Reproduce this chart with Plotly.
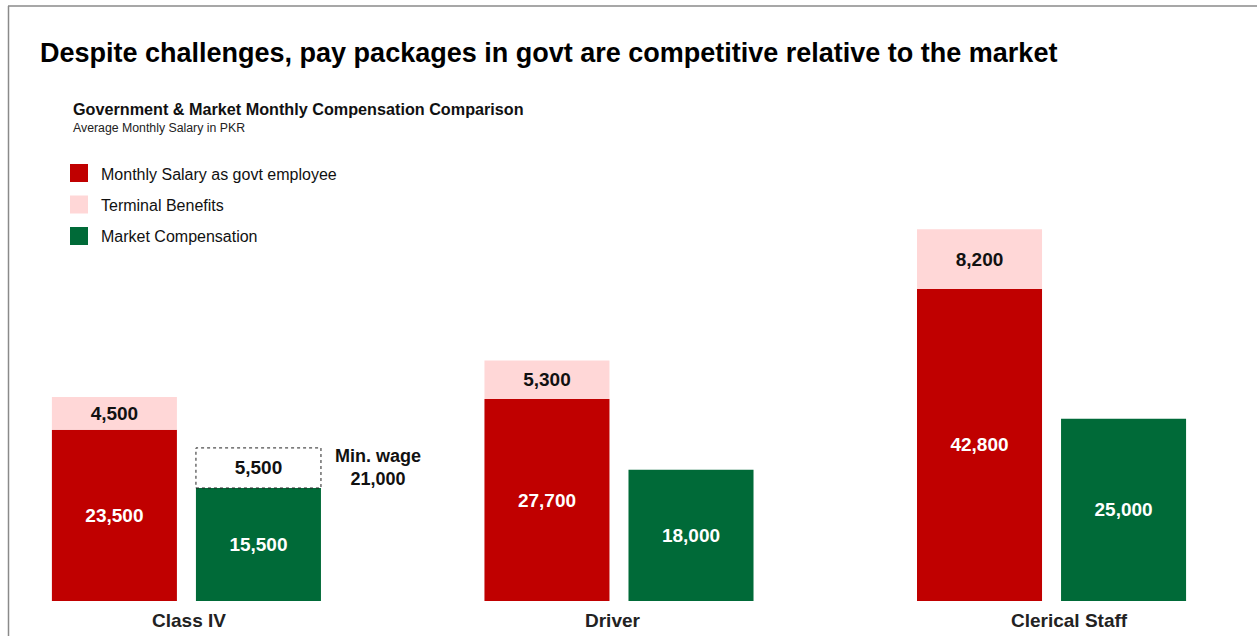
import plotly.graph_objects as go

# ---- data ----
categories = ["Class IV", "Driver", "Clerical Staff"]
govt_salary = [23500, 27700, 42800]
terminal_benefits = [4500, 5300, 8200]
market_comp = [15500, 18000, 25000]
min_wage = 21000
min_wage_gap = [min_wage - market_comp[0], None, None]

series_names = ["Monthly Salary as govt employee", "Terminal Benefits", "Market Compensation"]
RED, PINK, GREEN = "#C00000", "#FFD7D7", "#006A38"
series_colors = [RED, PINK, GREEN]

FONT = "Liberation Sans, Arial, sans-serif"
W, H = 1257, 636
M_T, M_B = 130, 35
BARGAP, GROUPGAP = 0.334, 0.132
VAL_SIZE = 19
LABEL_SHIFT = [3, -6, 18]  # horizontal nudges for the category captions


def fmt(v):
    return f"{v:,}" if v is not None else ""


fig = go.Figure()

fig.add_trace(go.Bar(
    x=categories, y=govt_salary, offsetgroup="govt", marker=dict(color=RED, line_width=0),
    text=[fmt(v) for v in govt_salary], textposition="inside", insidetextanchor="middle",
    textfont=dict(color="white", size=VAL_SIZE, family=FONT, weight="bold"),
    name=series_names[0], showlegend=False,
))
fig.add_trace(go.Bar(
    x=categories, y=terminal_benefits, base=govt_salary, offsetgroup="govt",
    marker=dict(color=PINK, line_width=0),
    text=[fmt(v) for v in terminal_benefits], textposition="inside", insidetextanchor="middle",
    textfont=dict(color="#111111", size=VAL_SIZE, family=FONT, weight="bold"),
    name=series_names[1], showlegend=False,
))
fig.add_trace(go.Bar(
    x=categories, y=market_comp, offsetgroup="market", marker=dict(color=GREEN, line_width=0),
    text=[fmt(v) for v in market_comp], textposition="inside", insidetextanchor="middle",
    textfont=dict(color="white", size=VAL_SIZE, family=FONT, weight="bold"),
    name=series_names[2], showlegend=False,
))
# gap between market pay and the minimum wage
fig.add_trace(go.Bar(
    x=categories, y=min_wage_gap, base=market_comp, offsetgroup="market",
    marker=dict(color="white", line_width=0),
    text=[fmt(v) for v in min_wage_gap], textposition="inside", insidetextanchor="middle",
    textfont=dict(color="#111111", size=VAL_SIZE, family=FONT, weight="bold"),
    name="Min. wage gap", showlegend=False,
))

# dotted outline for the minimum-wage gap box (second slot of the first group)
slot = (1 - BARGAP) / 2
bar_w = slot * (1 - GROUPGAP)
cx = slot / 2
fig.add_shape(type="rect", xref="x", yref="y",
              x0=cx - bar_w / 2, x1=cx + bar_w / 2, y0=market_comp[0], y1=min_wage,
              line=dict(color="#222222", width=1, dash="dot"), fillcolor="rgba(0,0,0,0)")

fig.add_annotation(xref="x", yref="y", x=0.443, y=min_wage, yanchor="top", xanchor="center",
                   yshift=4, text=f"Min. wage<br>{min_wage:,}", showarrow=False, align="center",
                   font=dict(size=18, color="#111111", family=FONT, weight="bold"))

# category captions under each group
for cat, dx in zip(categories, LABEL_SHIFT):
    fig.add_annotation(xref="x", yref="y", x=cat, y=0, yanchor="top", xanchor="center",
                       xshift=dx, yshift=-7, text=cat, showarrow=False,
                       font=dict(size=19, color="#222222", family=FONT, weight="bold"))


def paper_y(py):
    return 1 + (M_T - py) / (H - M_T - M_B)


# outer frame
fig.add_shape(type="line", xref="paper", yref="paper", x0=8 / W, x1=1.2, y0=paper_y(6),
              y1=paper_y(6), line=dict(color="#8a8a8a", width=1.5))
fig.add_shape(type="line", xref="paper", yref="paper", x0=8.5 / W, x1=8.5 / W,
              y0=-0.2, y1=paper_y(6), line=dict(color="#8a8a8a", width=1.5))

# titles
fig.add_annotation(xref="paper", yref="paper", x=38 / W, y=paper_y(53), xanchor="left", yanchor="middle",
                   text="Despite challenges, pay packages in govt are competitive relative to the market",
                   showarrow=False, font=dict(size=27, color="#000000", family=FONT, weight="bold"))
fig.add_annotation(xref="paper", yref="paper", x=71 / W, y=paper_y(109), xanchor="left", yanchor="middle",
                   text="Government & Market Monthly Compensation Comparison",
                   showarrow=False, font=dict(size=16.2, color="#111111", family=FONT, weight="bold"))
fig.add_annotation(xref="paper", yref="paper", x=71 / W, y=paper_y(128), xanchor="left", yanchor="middle",
                   text="Average Monthly Salary in PKR",
                   showarrow=False, font=dict(size=12.3, color="#222222", family=FONT))

# legend
for i, (name, col) in enumerate(zip(series_names, series_colors)):
    cy = 173 + i * 31.5
    fig.add_shape(type="rect", xref="paper", yref="paper",
                  x0=70 / W, x1=88 / W, y0=paper_y(cy + 9), y1=paper_y(cy - 9),
                  fillcolor=col, line_width=0)
    fig.add_annotation(xref="paper", yref="paper", x=99 / W, y=paper_y(cy + 1), xanchor="left",
                       yanchor="middle", text=name, showarrow=False,
                       font=dict(size=16, color="#111111", family=FONT))

scale = 0.00729  # pixels per PKR
fig.update_layout(
    width=W, height=H,
    margin=dict(l=0, r=0, t=M_T, b=M_B, pad=0),
    paper_bgcolor="white", plot_bgcolor="white",
    barmode="group", bargap=BARGAP, bargroupgap=GROUPGAP,
    uniformtext=dict(minsize=VAL_SIZE, mode="show"),
    xaxis=dict(range=[-0.431, 2.475], showgrid=False, showline=False, ticks="",
               showticklabels=False),
    yaxis=dict(range=[0, (H - M_T - M_B) / scale], visible=False, showgrid=False, zeroline=False),
    showlegend=False,
)

fig.write_html("out.html")
